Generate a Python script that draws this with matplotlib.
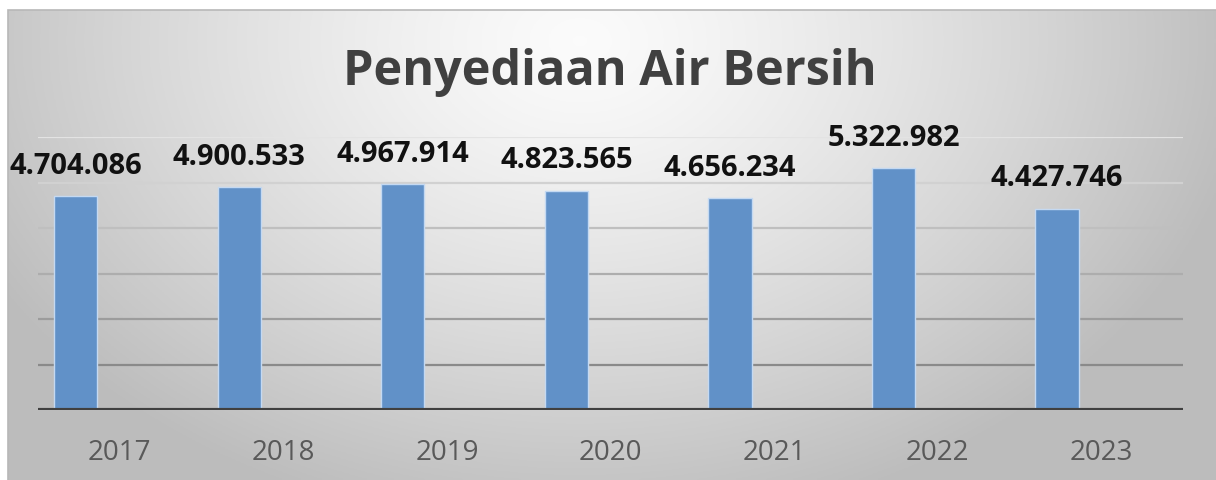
import numpy as np
import matplotlib
matplotlib.use('Agg')
import matplotlib.pyplot as plt
from matplotlib.patches import Rectangle

# Data
years = ['2017', '2018', '2019', '2020', '2021', '2022', '2023']
values = [4704086, 4900533, 4967914, 4823565, 4656234, 5322982, 4427746]
value_labels = ['4.704.086', '4.900.533', '4.967.914', '4.823.565',
                '4.656.234', '5.322.982', '4.427.746']
title = 'Penyediaan Air Bersih'

W, H = 1216, 480
plt.rcParams['font.family'] = ['Open Sans', 'DejaVu Sans']

fig = plt.figure(figsize=(W / 100, H / 100), dpi=100)
fig.patch.set_facecolor('white')

# Radial grey background (Excel chart area fill)
bg = fig.add_axes([8 / W, 0, 1 - 8 / W, (H - 10) / H], zorder=-5)
gx, gy = np.meshgrid(np.linspace(8, W, 400), np.linspace(10, H, 200))
r = np.sqrt(((gx - 580) / 640) ** 2 + ((gy - 40) / 470) ** 2)
shade = np.clip(0.985 - 0.23 * r ** 1.3, 0.74, 1)
bg.imshow(np.dstack([shade] * 3), aspect='auto', extent=(0, 1, 0, 1), origin='upper')
bg.set_axis_off()
fig.patches.append(Rectangle((8 / W, -0.01), 1, (H - 10) / H + 0.01, transform=fig.transFigure,
                             fill=False, edgecolor='#b8b8b8', linewidth=1.2, zorder=-4))

# Plot area
ax = fig.add_axes([38 / W, (H - 410) / H, (1183 - 38) / W, (410 - 137) / H])
ax.set_facecolor('none')
x = np.arange(len(years))
ax.set_xlim(-0.5, len(years) - 0.5)
ax.set_ylim(0, 6000000)

# Gridlines fade from darker at the bottom to light at the top
grid_levels = np.arange(1000000, 6000001, 1000000)
for k, g in enumerate(grid_levels):
    c = 0.54 + 0.07 * k
    ax.axhline(g, color=(c, c, c), linewidth=1.6, zorder=1)
ax.axhline(0, color='#404040', linewidth=3, zorder=3)

ax.bar(x - 0.27, values, width=0.265, color='#6191C8', edgecolor='#c4d9f2',
       linewidth=1, zorder=2)

for xi, v, lab in zip(x, values, value_labels):
    ax.annotate(lab, (xi - 0.27, v), xytext=(0, 16), textcoords='offset points',
                ha='center', va='baseline', fontsize=21, fontweight='bold',
                color='#111111')

ax.set_xticks(x)
ax.set_xticklabels(years, fontsize=20, color='#595959')
ax.tick_params(axis='x', length=0, pad=21)
ax.set_yticks([])
for s in ax.spines.values():
    s.set_visible(False)

fig.text(610 / W, (H - 85) / H, title, ha='center', va='baseline',
         fontsize=35, fontweight='bold', color='#404040')

fig.savefig('out.png', dpi=100)
